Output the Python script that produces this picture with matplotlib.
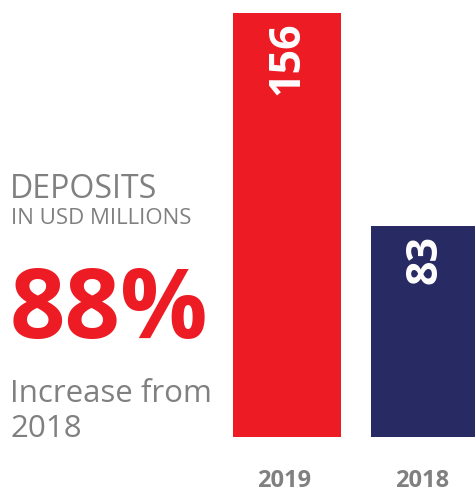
import matplotlib
matplotlib.use('Agg')
import matplotlib.pyplot as plt

# deposits, USD millions
years = ['2019', '2018']
deposits = [156, 83]
bar_colors = ['#ED1C24', '#272A63']
headline_pct = '88%'

W, H = 475, 494
fig = plt.figure(figsize=(W / 100, H / 100), dpi=100)
fx = lambda x: x / W
fy = lambda y: 1 - y / H          # pixel row (from top) -> figure fraction

ax = fig.add_axes([fx(233), fy(437), fx(W - 233), (437 - 13) / H])
ax.bar(range(len(years)), deposits, width=0.783, color=bar_colors)
ax.set_xlim(-0.3913, 1.362)
ax.set_ylim(10.7, max(deposits))
ax.axis('off')

for i, v in enumerate(deposits):
    ax.text(i, v - 3, str(v), rotation=90, ha='center', va='top', color='white',
            fontsize=31, fontweight='bold', family='Open Sans')

gray = '#808080'
for i, y in enumerate(years):
    fig.text(fx(287 + 138 * i - 3), fy(493), y, ha='center', va='bottom',
             fontsize=17, fontweight='bold', color=gray, family='Open Sans')

fig.text(fx(10), fy(198), 'DEPOSITS', fontsize=23, color=gray, family='Open Sans',
         va='baseline')
fig.text(fx(11), fy(224), 'IN USD MILLIONS', fontsize=16, color=gray,
         family='Open Sans', va='baseline')
fig.text(fx(10), fy(338), headline_pct, fontsize=70, fontweight='bold',
         color=bar_colors[0], family='Open Sans', va='baseline')
fig.text(fx(10), fy(402), 'Increase from', fontsize=22.5, color=gray,
         family='Open Sans', va='baseline')
fig.text(fx(10), fy(437), '2018', fontsize=22.5, color=gray, family='Open Sans',
         va='baseline')

fig.savefig('out.png', dpi=100, facecolor='white')
